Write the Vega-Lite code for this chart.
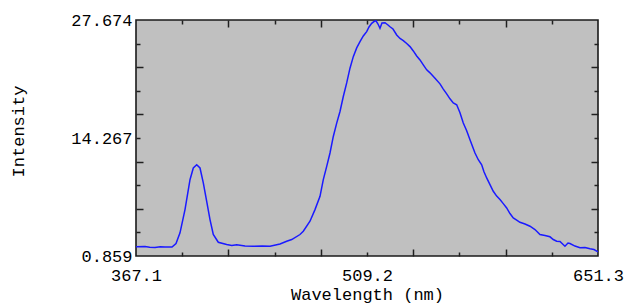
{
  "$schema": "https://vega.github.io/schema/vega-lite/v6.json",
  "width": 462,
  "height": 236,
  "autosize": "none",
  "padding": {"left": 136, "top": 20, "right": 26, "bottom": 50},
  "background": "#ffffff",
  "config": {
    "view": {"fill": "#c0c0c0", "stroke": "#1a1a1a", "strokeWidth": 1.6},
    "axis": {"labelFont": "Liberation Mono", "titleFont": "Liberation Mono", "labelColor": "#000000", "titleColor": "#000000", "labelFontSize": 17, "titleFontSize": 17, "titleFontWeight": "normal", "domain": false, "grid": false, "tickColor": "#202020", "tickWidth": 1.5}
  },
  "data": {"values": [
    {"wl": 367.1, "int": 1.90}, {"wl": 372.64, "int": 1.94}, {"wl": 375.5, "int": 1.85}, {"wl": 378.79, "int": 1.82}, {"wl": 382.0, "int": 1.92}, {"wl": 384.94, "int": 1.88}, {"wl": 389.25, "int": 1.88},
    {"wl": 391.71, "int": 2.28}, {"wl": 394.17, "int": 3.49}, {"wl": 397.24, "int": 6.13}, {"wl": 400.32, "int": 9.53}, {"wl": 402.35, "int": 10.86}, {"wl": 404.44, "int": 11.23},
    {"wl": 406.47, "int": 10.86}, {"wl": 408.5, "int": 9.16}, {"wl": 410.59, "int": 7.07}, {"wl": 412.62, "int": 5.00}, {"wl": 414.64, "int": 3.30}, {"wl": 417.72, "int": 2.42},
    {"wl": 422.89, "int": 2.16}, {"wl": 426.0, "int": 2.05}, {"wl": 429.04, "int": 2.13}, {"wl": 434.15, "int": 1.99}, {"wl": 439.26, "int": 1.97}, {"wl": 444.61, "int": 1.99},
    {"wl": 449.53, "int": 1.97}, {"wl": 455.68, "int": 2.22}, {"wl": 459.8, "int": 2.54}, {"wl": 462.88, "int": 2.73}, {"wl": 467.98, "int": 3.30}, {"wl": 470.01, "int": 3.67},
    {"wl": 474.13, "int": 4.81}, {"wl": 477.21, "int": 6.13}, {"wl": 480.29, "int": 7.64}, {"wl": 482.32, "int": 9.53}, {"wl": 484.41, "int": 11.04}, {"wl": 486.44, "int": 12.56},
    {"wl": 488.47, "int": 14.44}, {"wl": 490.56, "int": 15.96}, {"wl": 492.59, "int": 17.28}, {"wl": 494.62, "int": 18.98}, {"wl": 496.71, "int": 20.53}, {"wl": 498.74, "int": 22.20},
    {"wl": 500.77, "int": 23.51}, {"wl": 502.86, "int": 24.50}, {"wl": 504.89, "int": 25.21}, {"wl": 506.92, "int": 25.86}, {"wl": 509.01, "int": 26.35}, {"wl": 510.43, "int": 26.88},
    {"wl": 512.09, "int": 27.30}, {"wl": 513.5, "int": 27.50}, {"wl": 514.73, "int": 27.59}, {"wl": 515.96, "int": 27.22}, {"wl": 517.19, "int": 26.73}, {"wl": 518.42, "int": 27.33},
    {"wl": 520.27, "int": 27.37}, {"wl": 522.11, "int": 27.11}, {"wl": 523.34, "int": 26.91}, {"wl": 525.19, "int": 26.65}, {"wl": 527.47, "int": 25.97}, {"wl": 529.5, "int": 25.58},
    {"wl": 531.53, "int": 25.33}, {"wl": 533.62, "int": 25.01}, {"wl": 535.65, "int": 24.65}, {"wl": 537.68, "int": 24.16}, {"wl": 539.77, "int": 23.59}, {"wl": 541.8, "int": 23.14},
    {"wl": 543.83, "int": 22.57}, {"wl": 545.92, "int": 22.01}, {"wl": 547.95, "int": 21.67}, {"wl": 551.03, "int": 21.06}, {"wl": 554.1, "int": 20.42}, {"wl": 556.13, "int": 19.82},
    {"wl": 558.22, "int": 19.28}, {"wl": 560.25, "int": 18.72}, {"wl": 562.28, "int": 18.26}, {"wl": 564.37, "int": 18.04}, {"wl": 566.4, "int": 17.13}, {"wl": 568.43, "int": 15.96},
    {"wl": 570.52, "int": 15.09}, {"wl": 572.55, "int": 14.07}, {"wl": 575.63, "int": 12.56}, {"wl": 577.66, "int": 11.80}, {"wl": 579.75, "int": 11.23}, {"wl": 581.16, "int": 10.44},
    {"wl": 582.82, "int": 9.73}, {"wl": 584.85, "int": 8.97}, {"wl": 586.88, "int": 8.21}, {"wl": 588.97, "int": 7.66}, {"wl": 591.0, "int": 7.27}, {"wl": 593.03, "int": 6.81},
    {"wl": 595.12, "int": 6.32}, {"wl": 597.15, "int": 5.68}, {"wl": 599.18, "int": 5.19}, {"wl": 601.27, "int": 4.94}, {"wl": 603.3, "int": 4.69}, {"wl": 606.38, "int": 4.49},
    {"wl": 609.46, "int": 4.24}, {"wl": 612.53, "int": 3.86}, {"wl": 615.61, "int": 3.30}, {"wl": 618.68, "int": 3.18}, {"wl": 621.76, "int": 3.04}, {"wl": 623.79, "int": 2.73},
    {"wl": 625.88, "int": 2.54}, {"wl": 627.91, "int": 2.50}, {"wl": 630.98, "int": 1.97}, {"wl": 632.83, "int": 2.33}, {"wl": 634.06, "int": 2.28}, {"wl": 637.14, "int": 1.99},
    {"wl": 640.22, "int": 1.79}, {"wl": 643.29, "int": 1.82}, {"wl": 646.37, "int": 1.68}, {"wl": 648.83, "int": 1.60}, {"wl": 651.3, "int": 1.34}
  ]},
  "resolve": {"axis": {"x": "independent", "y": "independent"}},
  "layer": [
    {
      "mark": {"type": "line", "color": "#1a1aff", "strokeWidth": 1.5, "clip": true},
      "encoding": {
        "x": {"field": "wl", "type": "quantitative", "scale": {"domain": [367.1, 651.3], "nice": false, "zero": false},
          "axis": {"orient": "bottom", "ticks": false, "values": [367.1, 509.2, 651.3], "labelPadding": 11, "labelFlush": false, "labelOverlap": false,
            "labelExpr": "datum.value < 368 ? '367.1' : datum.value > 651 ? '651.3' : '509.2'", "title": "Wavelength (nm)", "titlePadding": 3}},
        "y": {"field": "int", "type": "quantitative", "scale": {"domain": [0.859, 27.674], "nice": false, "zero": false},
          "axis": {"orient": "left", "ticks": false, "values": [0.859, 14.2665, 27.674], "labelPadding": 4, "labelFlush": false, "labelOverlap": false,
            "labelExpr": "datum.value < 1 ? '0.859' : datum.value > 27 ? '27.674' : '14.267'", "title": "Intensity", "titlePadding": 43, "titleY": 111}}
      }
    },
    {
      "mark": {"type": "line", "opacity": 0},
      "encoding": {
        "x": {"field": "wl", "type": "quantitative",
          "axis": {"orient": "top", "labels": false, "title": null, "values": [395.52, 423.94, 452.36, 480.78, 509.2, 537.62, 566.04, 594.46, 622.88],
            "tickSize": {"condition": {"test": "round((datum.value-367.1)/28.42) % 2 == 0", "value": -7}, "value": -4}}},
        "y": {"field": "int", "type": "quantitative",
          "axis": {"orient": "right", "labels": false, "title": null, "values": [3.5405, 6.222, 8.9035, 11.585, 14.2665, 16.948, 19.6295, 22.311, 24.9925],
            "tickSize": {"condition": {"test": "round((datum.value-0.859)/2.6815) % 2 == 0", "value": -7}, "value": -4}}}
      }
    },
    {
      "mark": {"type": "line", "opacity": 0},
      "encoding": {
        "x": {"field": "wl", "type": "quantitative",
          "axis": {"orient": "bottom", "labels": false, "title": null, "values": [395.52, 423.94, 452.36, 480.78, 509.2, 537.62, 566.04, 594.46, 622.88],
            "tickSize": {"condition": {"test": "round((datum.value-367.1)/28.42) % 2 == 0", "value": -7}, "value": -4}}},
        "y": {"field": "int", "type": "quantitative",
          "axis": {"orient": "left", "labels": false, "title": null, "values": [3.5405, 6.222, 8.9035, 11.585, 14.2665, 16.948, 19.6295, 22.311, 24.9925],
            "tickSize": {"condition": {"test": "round((datum.value-0.859)/2.6815) % 2 == 0", "value": -7}, "value": -4}}}
      }
    }
  ]
}
